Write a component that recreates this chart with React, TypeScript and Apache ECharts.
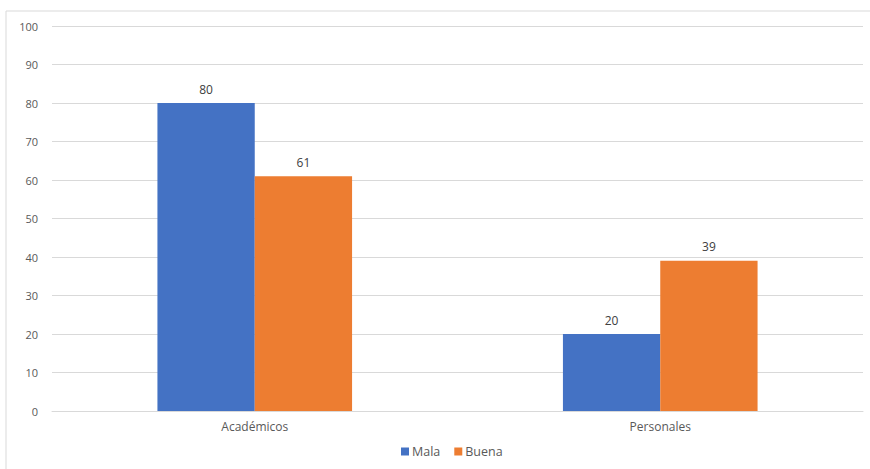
import React, { useEffect, useRef } from "react";
import * as echarts from "echarts";

const categories = ["Académicos", "Personales"];
const malaValues = [80, 20];
const buenaValues = [61, 39];
const seriesNames = ["Mala", "Buena"];
const yTicks = { min: 0, max: 100, interval: 10 };

const FONT = "'Open Sans', 'Noto Sans', sans-serif";

export default function App() {
  const ref = useRef<HTMLDivElement>(null);

  useEffect(() => {
    if (!ref.current) return;
    const chart = echarts.init(ref.current, undefined, { renderer: "svg" });
    const labelStyle = {
      show: true,
      position: "top" as const,
      distance: 8,
      color: "#404040",
      fontSize: 12,
      fontFamily: FONT,
    };
    chart.setOption({
      animation: false,
      backgroundColor: "#ffffff",
      graphic: [
        {
          type: "polyline",
          shape: { points: [[6, 469], [6, 11], [870, 11]] },
          style: { fill: "none", stroke: "#d9d9d9", lineWidth: 1 },
          silent: true,
        },
      ],
      grid: { left: 52, right: 7, top: 26, bottom: 58, containLabel: false },
      legend: {
        bottom: 6,
        left: 396,
        itemWidth: 8,
        itemHeight: 8,
        itemGap: 14,
        icon: "rect",
        textStyle: { color: "#595959", fontSize: 12.5, fontFamily: FONT, padding: [0, 0, 0, -2] },
        data: seriesNames,
      },
      xAxis: {
        type: "category",
        data: categories,
        axisTick: { show: false },
        axisLine: { lineStyle: { color: "#d9d9d9" } },
        axisLabel: { color: "#595959", fontSize: 12, fontFamily: FONT, margin: 9 },
      },
      yAxis: {
        type: "value",
        min: yTicks.min,
        max: yTicks.max,
        interval: yTicks.interval,
        axisLine: { show: false },
        axisTick: { show: false },
        splitLine: { lineStyle: { color: "#d9d9d9" } },
        axisLabel: { color: "#595959", fontSize: 11, fontFamily: FONT, margin: 14 },
      },
      series: [
        {
          name: seriesNames[0],
          type: "bar",
          data: malaValues,
          barGap: "0%",
          barCategoryGap: "52%",
          itemStyle: { color: "#4472c4" },
          label: labelStyle,
        },
        {
          name: seriesNames[1],
          type: "bar",
          data: buenaValues,
          barGap: "0%",
          barCategoryGap: "52%",
          itemStyle: { color: "#ed7d31" },
          label: labelStyle,
        },
      ],
    });
    return () => chart.dispose();
  }, []);

  return <div ref={ref} style={{ width: 870, height: 469, position: "absolute", left: 0, top: 0 }} />;
}
